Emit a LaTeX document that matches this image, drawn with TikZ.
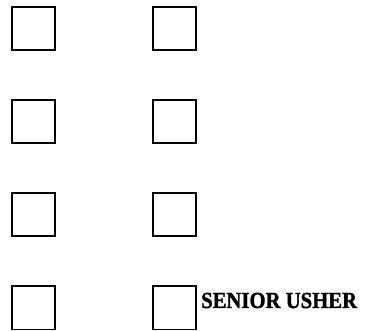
\documentclass[tikz,border=0pt]{standalone}
\usepackage{fontspec}
\setmainfont{Liberation Serif}[BoldFeatures={FakeBold=1.5}]
\usepackage{tikz}
\usetikzlibrary{positioning}
\tikzset{
  seat/.style={
    draw=black,
    fill=white,
    line width=1.8pt,
    minimum width=43.2pt,
    minimum height=43.2pt,
    inner sep=0pt
  },
  tag/.style={font=\bfseries\fontsize{23}{23}\selectfont, inner sep=0pt, xscale=0.9}
}

\begin{document}
\begin{tikzpicture}[x=1pt,y=-1pt]
  \useasboundingbox (0,0) rectangle (365,331);

  \node[seat] (leftA) at (33.5,28.5) {};
  \node[seat] (rightA) at (174.5,28.5) {};
  \node[seat] (leftB) at (33.5,121.5) {};
  \node[seat] (rightB) at (174.5,121.5) {};
  \node[seat] (leftC) at (33.5,214.5) {};
  \node[seat] (rightC) at (174.5,214.5) {};
  \node[seat] (leftD) at (33.5,308) {};
  \node[seat] (rightD) at (174.5,308) {};

  \node[tag, anchor=base west] (usher) at (201,308) {SENIOR USHER};
\end{tikzpicture}
\end{document}
